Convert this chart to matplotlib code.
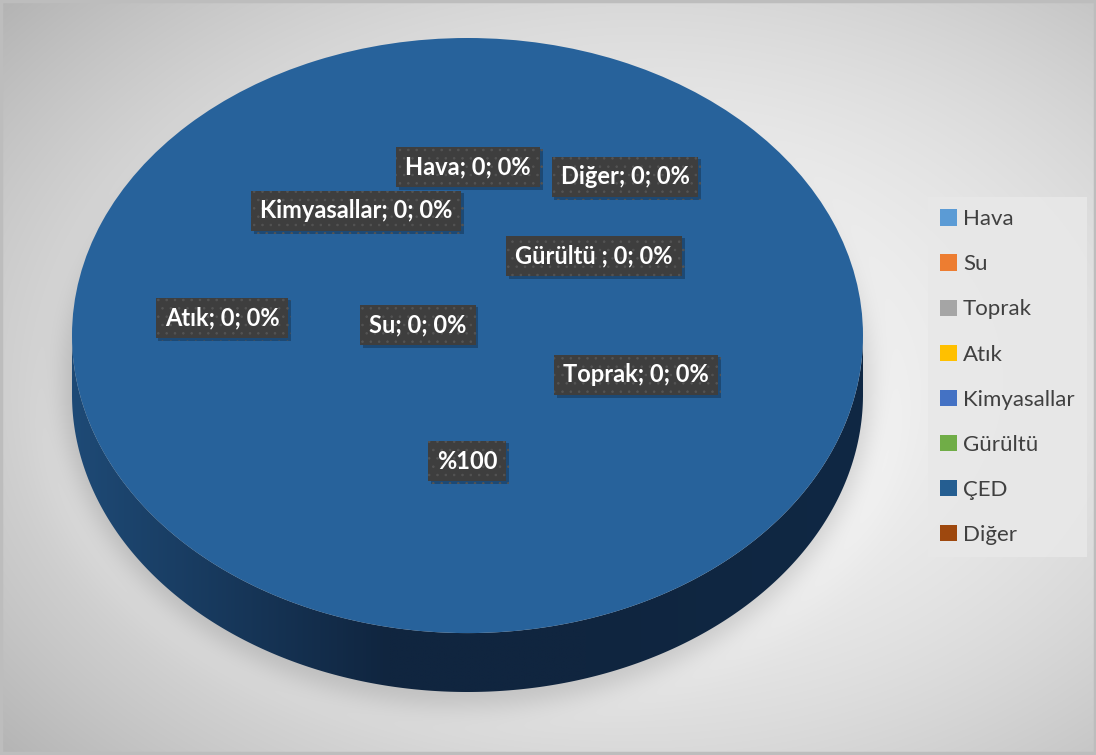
import numpy as np
import matplotlib
matplotlib.use("Agg")
import matplotlib.pyplot as plt
from matplotlib.patches import Patch, Polygon, Rectangle
from matplotlib import patheffects as pe

# ---- data ----
categories = ["Hava", "Su", "Toprak", "Atık", "Kimyasallar", "Gürültü", "ÇED", "Diğer"]
label_names = ["Hava", "Su", "Toprak", "Atık", "Kimyasallar", "Gürültü ", "ÇED", "Diğer"]
values = [0, 0, 0, 0, 0, 0, 1, 0]
palette = ["#5B9BD5", "#ED7D31", "#A5A5A5", "#FFC000", "#4472C4", "#70AD47", "#255E91", "#9E480E"]

W, H = 1096, 755
fig = plt.figure(figsize=(W / 100, H / 100), dpi=100)

# ---- background: soft radial gradient plus a blurred shadow under the pie ----
bg = fig.add_axes([0, 0, 1, 1])
bg.set_xlim(0, W)
bg.set_ylim(H, 0)
bg.axis("off")

yy, xx = np.mgrid[0:H, 0:W].astype(float)
r2 = ((xx - 640) / 740) ** 2 + ((yy - 380) / 510) ** 2
base = 244 - 50 * r2


def blur(img, sigma):
    k = int(3 * sigma)
    t = np.arange(-k, k + 1)
    g = np.exp(-t ** 2 / (2 * sigma ** 2))
    g /= g.sum()
    out = np.apply_along_axis(lambda m: np.convolve(m, g, mode="same"), 1, img)
    out = np.apply_along_axis(lambda m: np.convolve(m, g, mode="same"), 0, out)
    return out


shadow = (((xx - 467) / 405) ** 2 + ((yy - 385) / 322) ** 2 <= 1).astype(float)
shadow = blur(shadow, 12)
broad = (((xx - 467) / 425) ** 2 + ((yy - 440) / 272) ** 2 <= 1).astype(float)
broad = blur(broad, 20)
img = base - 30 * shadow + 6 * broad * (1 - shadow)
img = np.clip(img, 0, 255) / 255.0
bg.imshow(np.dstack([img, img, img]), extent=(0, W, H, 0), aspect="auto",
          interpolation="bilinear", zorder=0)
bg.add_patch(Rectangle((1, 1), W - 2, H - 3, fill=False, edgecolor="#bdbdbd",
                       linewidth=2.5, zorder=5))

# ---- pie: top face as a squashed pie, side drawn as a shaded band ----
left, right, top, bottom = 72, 863, 38, 692
depth = 59 / 298.0
pax = fig.add_axes([left / W, 1 - bottom / H, (right - left) / W, (bottom - top) / H])

face_colors = list(palette)
face_colors[categories.index("ÇED")] = "#27629B"
wedges, _ = pax.pie(values, colors=face_colors, radius=1, startangle=90,
                    counterclock=False, wedgeprops=dict(linewidth=0))
for w in wedges:
    w.set_zorder(3)
pax.set_aspect("auto")
pax.set_xlim(-1, 1)
pax.set_ylim(-1 - depth, 1)
pax.axis("off")

t = np.linspace(np.pi, 2 * np.pi, 400)
xs = np.cos(t)
top_edge = np.sin(t)
band = np.concatenate([np.column_stack([xs, top_edge]),
                       np.column_stack([xs[::-1], top_edge[::-1] - depth])])
side = Polygon(band, closed=True, facecolor="none", edgecolor="none")
pax.add_patch(side)

gx = np.linspace(-1, 1, 512)
c_left = np.array([0x1E, 0x4A, 0x76]) / 255
c_mid = np.array([0x10, 0x25, 0x3F]) / 255
c_right = np.array([0x0F, 0x28, 0x44]) / 255
f1 = np.clip((gx + 1) / 0.8, 0, 1)[:, None]
f2 = np.clip((gx - 0.3) / 0.7, 0, 1)[:, None]
grad = c_left * (1 - f1) + c_mid * f1
grad = grad * (1 - f2) + c_right * f2
grad_img = np.repeat(grad[None, :, :], 4, axis=0)
im = pax.imshow(grad_img, extent=(-1, 1, -1 - depth, 0), aspect="auto",
                interpolation="bilinear", zorder=2)
im.set_clip_path(side)

# ---- data labels ----
plt.rcParams["hatch.linewidth"] = 0.6
total = sum(values)
label_pos = {
    "Hava": (468, 167), "Diğer": (625, 177), "Kimyasallar": (356, 211),
    "Gürültü": (594, 256), "Atık": (222, 318), "Su": (418, 325),
    "Toprak": (636, 375), "ÇED": (467, 461),
}
for cat, name, val in zip(categories, label_names, values):
    pct = round(100 * val / total)
    text = f"%{pct}" if pct == 100 else f"{name}; {val}; {pct}%"
    px, py = label_pos[cat]
    txt = fig.text(px / W, 1 - py / H, text, ha="center", va="center",
                   color="white", fontsize=17, fontweight="bold", family="Lato",
                   zorder=10,
                   bbox=dict(boxstyle="square,pad=0.38", facecolor="#3e3e3e",
                             edgecolor="#545454", linewidth=0, hatch=".."))
    txt.get_bbox_patch().set_path_effects(
        [pe.SimplePatchShadow(offset=(2, -2), shadow_rgbFace="#000000", alpha=0.25),
         pe.Normal()])

# ---- legend ----
handles = [Patch(facecolor=c, edgecolor="none") for c in palette]
leg = fig.legend(handles, categories, loc="upper left",
                 bbox_to_anchor=(928 / W, 1 - 197 / H),
                 prop=dict(family="Lato", size=16), labelcolor="#404040",
                 frameon=True, fancybox=False, facecolor="#e8e8e8",
                 edgecolor="none", framealpha=0.9, borderpad=0.55,
                 labelspacing=1.13, handlelength=0.75, handleheight=0.75,
                 handletextpad=0.28, borderaxespad=0)

fig.savefig("out.png", dpi=100)
